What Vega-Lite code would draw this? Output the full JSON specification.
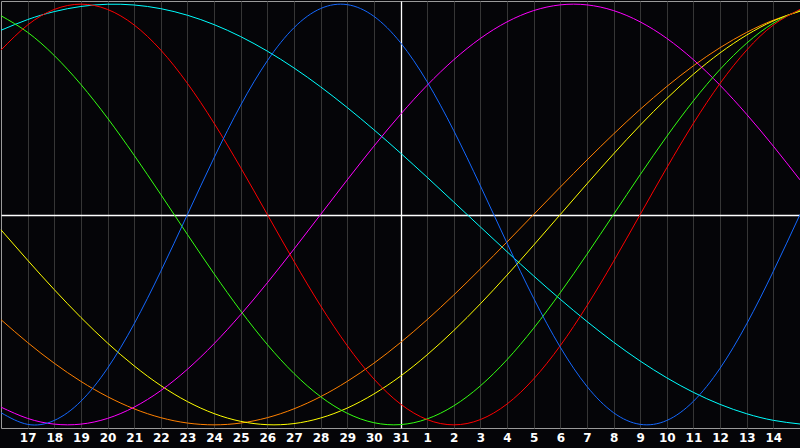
{
  "$schema": "https://vega.github.io/schema/vega-lite/v6.json",
  "autosize": {"type": "none"},
  "padding": {"left": 1, "top": 1, "right": 0, "bottom": 20},
  "width": 799,
  "height": 427,
  "background": "#050508",
  "config": {
    "view": {"stroke": "#9a9a9a", "strokeWidth": 1, "fill": "#050508"}
  },
  "data": {"values": [
    {"t":0,"p23":-0.9423,"p28":0.7818,"p33":0.9450,"p38":-0.9158,"p43":-0.0730,"p48":-0.5,"p53":0.8758},
    {"t":1,"p23":-0.9977,"p28":0.9010,"p33":0.8660,"p38":-0.9694,"p43":-0.2174,"p48":-0.6088,"p53":0.9267},
    {"t":2,"p23":-0.9791,"p28":0.9749,"p33":0.7557,"p38":-0.9966,"p43":-0.3572,"p48":-0.7071,"p53":0.9646},
    {"t":3,"p23":-0.8879,"p28":1,"p33":0.6182,"p38":-0.9966,"p43":-0.4894,"p48":-0.7934,"p53":0.9890},
    {"t":4,"p23":-0.7308,"p28":0.9749,"p33":0.4582,"p38":-0.9694,"p43":-0.6111,"p48":-0.8660,"p53":0.9996},
    {"t":5,"p23":-0.5196,"p28":0.9010,"p33":0.2817,"p38":-0.9158,"p43":-0.7197,"p48":-0.9239,"p53":0.9960},
    {"t":6,"p23":-0.2698,"p28":0.7818,"p33":0.0951,"p38":-0.8372,"p43":-0.8133,"p48":-0.9659,"p53":0.9786},
    {"t":7,"p23":0,"p28":0.6235,"p33":-0.0951,"p38":-0.7357,"p43":-0.8894,"p48":-0.9914,"p53":0.9473},
    {"t":8,"p23":0.2698,"p28":0.4339,"p33":-0.2817,"p38":-0.6142,"p43":-0.9465,"p48":-1,"p53":0.9028},
    {"t":9,"p23":0.5196,"p28":0.2225,"p33":-0.4582,"p38":-0.4759,"p43":-0.9834,"p48":-0.9914,"p53":0.8457},
    {"t":10,"p23":0.7308,"p28":0,"p33":-0.6182,"p38":-0.3247,"p43":-0.9993,"p48":-0.9659,"p53":0.7766},
    {"t":11,"p23":0.8879,"p28":-0.2225,"p33":-0.7557,"p38":-0.1646,"p43":-0.9940,"p48":-0.9239,"p53":0.6967},
    {"t":12,"p23":0.9791,"p28":-0.4339,"p33":-0.8660,"p38":0,"p43":-0.9675,"p48":-0.8660,"p53":0.6069},
    {"t":13,"p23":0.9977,"p28":-0.6235,"p33":-0.9450,"p38":0.1646,"p43":-0.9203,"p48":-0.7934,"p53":0.5085},
    {"t":14,"p23":0.9423,"p28":-0.7818,"p33":-0.9898,"p38":0.3247,"p43":-0.8533,"p48":-0.7071,"p53":0.4031},
    {"t":15,"p23":0.8170,"p28":-0.9010,"p33":-0.9989,"p38":0.4759,"p43":-0.7684,"p48":-0.6088,"p53":0.2921},
    {"t":16,"p23":0.6311,"p28":-0.9749,"p33":-0.9718,"p38":0.6142,"p43":-0.6671,"p48":-0.5,"p53":0.1769},
    {"t":17,"p23":0.3984,"p28":-1,"p33":-0.9096,"p38":0.7357,"p43":-0.5517,"p48":-0.3827,"p53":0.0592},
    {"t":18,"p23":0.1362,"p28":-0.9749,"p33":-0.8146,"p38":0.8372,"p43":-0.4245,"p48":-0.2588,"p53":-0.0592},
    {"t":19,"p23":-0.1362,"p28":-0.9010,"p33":-0.6901,"p38":0.9158,"p43":-0.2881,"p48":-0.1305,"p53":-0.1769},
    {"t":20,"p23":-0.3984,"p28":-0.7818,"p33":-0.5406,"p38":0.9694,"p43":-0.1456,"p48":0,"p53":-0.2921},
    {"t":21,"p23":-0.6311,"p28":-0.6235,"p33":-0.3717,"p38":0.9966,"p43":0,"p48":0.1305,"p53":-0.4031},
    {"t":22,"p23":-0.8170,"p28":-0.4339,"p33":-0.1893,"p38":0.9966,"p43":0.1456,"p48":0.2588,"p53":-0.5085},
    {"t":23,"p23":-0.9423,"p28":-0.2225,"p33":0,"p38":0.9694,"p43":0.2881,"p48":0.3827,"p53":-0.6069},
    {"t":24,"p23":-0.9977,"p28":0,"p33":0.1893,"p38":0.9158,"p43":0.4245,"p48":0.5,"p53":-0.6967},
    {"t":25,"p23":-0.9791,"p28":0.2225,"p33":0.3717,"p38":0.8372,"p43":0.5517,"p48":0.6088,"p53":-0.7766},
    {"t":26,"p23":-0.8879,"p28":0.4339,"p33":0.5406,"p38":0.7357,"p43":0.6671,"p48":0.7071,"p53":-0.8457},
    {"t":27,"p23":-0.7308,"p28":0.6235,"p33":0.6901,"p38":0.6142,"p43":0.7684,"p48":0.7934,"p53":-0.9028},
    {"t":28,"p23":-0.5196,"p28":0.7818,"p33":0.8146,"p38":0.4759,"p43":0.8533,"p48":0.8660,"p53":-0.9473},
    {"t":29,"p23":-0.2698,"p28":0.9010,"p33":0.9096,"p38":0.3247,"p43":0.9203,"p48":0.9239,"p53":-0.9786},
    {"t":30,"p23":0,"p28":0.9749,"p33":0.9718,"p38":0.1646,"p43":0.9675,"p48":0.9659,"p53":-0.9960}
  ]},
  "transform": [{"fold": ["p53","p48","p43","p38","p33","p28","p23"], "as": ["cycle","v"]}],
  "mark": {"type": "line", "interpolate": "natural", "strokeWidth": 1},
  "encoding": {
    "x": {"field": "t", "type": "quantitative",
          "scale": {"domain": [0, 30], "nice": false, "zero": false},
          "axis": {"values": [1,2,3,4,5,6,7,8,9,10,11,12,13,14,15,16,17,18,19,20,21,22,23,24,25,26,27,28,29],
                   "labelExpr": "datum.value <= 15 ? datum.value + 16 : datum.value - 15",
                   "labelOverlap": false, "labelFlush": false, "labelBound": false, "labelSeparation": 0,
                   "grid": true,
                   "gridColor": {"condition": {"test": "datum.value === 15", "value": "#ffffff"}, "value": "#363636"},
                   "gridWidth": {"condition": {"test": "datum.value === 15", "value": 1.3}, "value": 1},
                   "ticks": false, "domain": false,
                   "labelColor": "#ffffff", "labelFont": "DejaVu Sans", "labelFontWeight": "bold",
                   "labelFontSize": 12, "labelPadding": 4, "labelBaseline": "top", "title": null}},
    "y": {"field": "v", "type": "quantitative",
          "scale": {"domain": [-1.015, 1.015], "nice": false, "zero": false},
          "axis": {"values": [0], "grid": true, "gridColor": "#ffffff", "gridWidth": 1.3,
                   "labels": false, "ticks": false, "domain": false, "title": null}},
    "color": {"field": "cycle", "type": "nominal", "legend": null,
              "scale": {"domain": ["p23","p28","p33","p38","p43","p48","p53"],
                        "range": ["#1468ff","#ff0000","#33ff11","#ff00ff","#ffff00","#ff8000","#00ffff"]}},
    "order": {"field": "t", "type": "quantitative"}
  }
}
